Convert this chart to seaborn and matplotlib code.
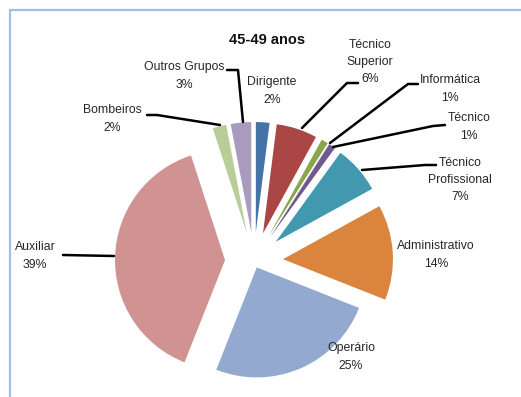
import matplotlib
matplotlib.use("Agg")
import matplotlib.pyplot as plt
from matplotlib import font_manager
import seaborn as sns

# ---- data ----
categories = ["Dirigente", "Técnico\nSuperior", "Informática", "Técnico", "Técnico\nProfissional",
              "Administrativo", "Operário", "Auxiliar", "Bombeiros", "Outros Grupos"]
values = [2, 6, 1, 1, 7, 14, 25, 39, 2, 3]
colors = ["#4572A7", "#AA4643", "#89A54E", "#71588F", "#4198AF",
          "#DB843D", "#93A9CF", "#D19392", "#B9CD96", "#A99BBD"]
title = "45-49 anos"

sns.set_theme(style="white")

def pick_font():
    for fam in ["Liberation Sans Narrow", "Liberation Sans", "DejaVu Sans"]:
        try:
            font_manager.findfont(font_manager.FontProperties(family=fam), fallback_to_default=False)
            return fam
        except Exception:
            pass
    return "DejaVu Sans"

fam = pick_font()
narrow = fam == "Liberation Sans Narrow"
plt.rcParams['font.family'] = [fam, "DejaVu Sans"]

W, H = 521, 397
fig = plt.figure(figsize=(W / 100, H / 100), dpi=100)
ax = fig.add_axes([0, 0, 1, 1])
ax.set_xlim(0, W)
ax.set_ylim(0, H)
ax.axis("off")

def Y(y):
    return H - y

# border
ax.plot([9.5, 9.5, W + 5], [Y(H + 5), Y(9.5), Y(9.5)], color="#A3BDE8", lw=1.6,
        solid_joinstyle="miter", zorder=1)

# explode offsets in data (pixel) units
explode = [29] * len(values)
explode[6] = 7
ax.pie(values, colors=colors, startangle=90, counterclock=False, explode=explode,
       center=(254, Y(261)), radius=110, wedgeprops=dict(linewidth=0))
ax.set_xlim(0, W)
ax.set_ylim(0, H)
ax.set_aspect("auto")

fs = 10.5 if narrow else 8.8
tfs = 12.3 if narrow else 10.5
ax.text(267, Y(40), title, ha="center", va="center", fontsize=tfs, fontweight="bold", color="#111111")

pct = [f"{v}%" for v in values]
label_pos = [(272, 91), (370, 62), (450, 89), (469, 127), (460, 180),
             (436, 255), (351, 357), (35, 256), (112, 119), (184, 76)]
for name, p, (x, y) in zip(categories, pct, label_pos):
    ax.text(x, Y(y), f"{name}\n{p}", ha="center", va="center", fontsize=fs,
            color="#262626", linespacing=1.6)

leaders = [
    [(227, 70), (238, 70), (243, 122)],
    [(147, 115), (157, 115), (220, 125)],
    [(358, 83), (347, 83), (302, 128)],
    [(418, 84), (408, 84), (330, 143)],
    [(445, 125), (433, 126), (333, 147)],
    [(436, 165), (425, 165), (362, 170)],
    [(63, 255), (114, 256)],
]
for pts in leaders:
    ax.plot([p[0] for p in pts], [Y(p[1]) for p in pts], color="black", lw=1.8, zorder=5)

fig.savefig("out.png", dpi=100)
